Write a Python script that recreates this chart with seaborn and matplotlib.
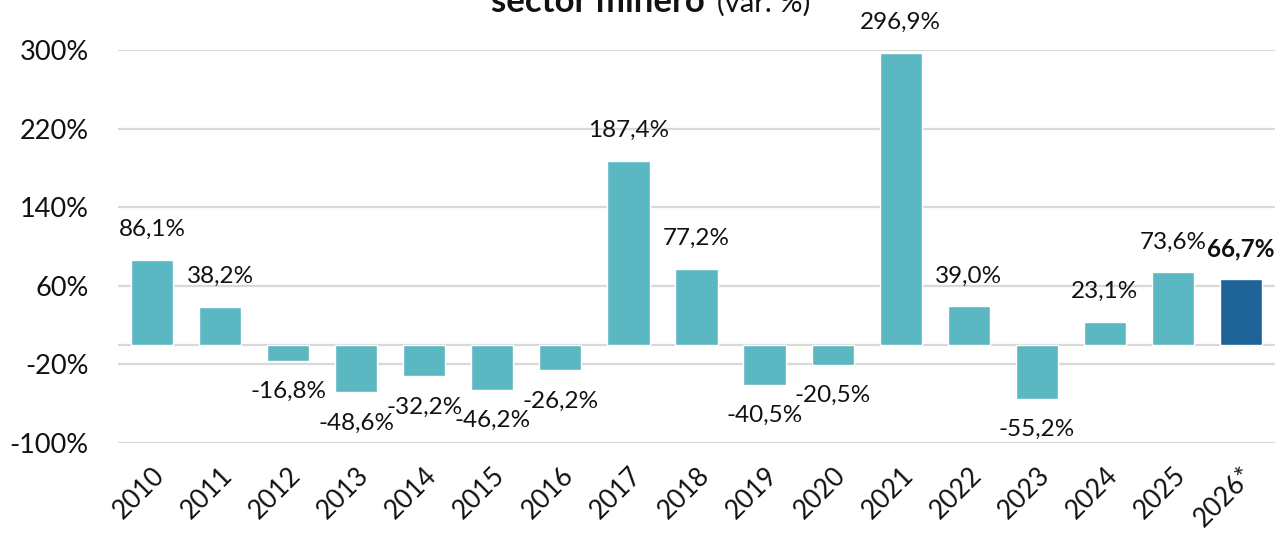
import matplotlib
matplotlib.use("Agg")
import matplotlib.pyplot as plt
import seaborn as sns
import pandas as pd

years = ["2010", "2011", "2012", "2013", "2014", "2015", "2016", "2017", "2018",
         "2019", "2020", "2021", "2022", "2023", "2024", "2025", "2026*"]
values = [86.1, 38.2, -16.8, -48.6, -32.2, -46.2, -26.2, 187.4, 77.2,
          -40.5, -20.5, 296.9, 39.0, -55.2, 23.1, 73.6, 66.7]
labels = ["86,1%", "38,2%", "-16,8%", "-48,6%", "-32,2%", "-46,2%", "-26,2%", "187,4%", "77,2%",
          "-40,5%", "-20,5%", "296,9%", "39,0%", "-55,2%", "23,1%", "73,6%", "66,7%"]
yticks = [-100, -20, 60, 140, 220, 300]
ytick_labels = ["-100%", "-20%", "60%", "140%", "220%", "300%"]

sns.set_theme(style="white")
plt.rcParams["font.family"] = ["Lato", "DejaVu Sans"]

df = pd.DataFrame({"year": years, "value": values})
colors = ["#5BB7C1"] * (len(years) - 1) + ["#1E6397"]

fig = plt.figure(figsize=(12.87, 5.35), dpi=100)
ax = fig.add_axes([118 / 1287, 1 - 443 / 535, (1275 - 118) / 1287, (443 - 50) / 535])

sns.barplot(data=df, x="year", y="value", hue="year", palette=colors, legend=False,
            width=0.62, ax=ax, saturation=1)

ax.set_ylim(-100, 300)
ax.set_xlim(-0.5, len(years) - 0.5)
ax.set_yticks(yticks)
ax.set_yticklabels(ytick_labels, fontsize=19.5, color="#111111")
ax.yaxis.grid(True, color="#D9D9D9", linewidth=1.6)
ax.axhline(0, color="#D9D9D9", linewidth=1.6, zorder=0.5)
ax.set_axisbelow(True)
for s in ax.spines.values():
    s.set_visible(False)
ax.tick_params(axis="y", length=0, pad=21)
ax.tick_params(axis="x", length=0, pad=14)
ax.set_xlabel("")
ax.set_ylabel("")
for lab in ax.get_xticklabels():
    lab.set_rotation(45)
    lab.set_ha("right")
    lab.set_rotation_mode("anchor")
    lab.set_fontsize(19)
    lab.set_color("#111111")

for i, (v, t) in enumerate(zip(values, labels)):
    off = 22 if v >= 0 else -22
    ax.annotate(t, (i, v), xytext=(0, off), textcoords="offset points",
                ha="center", va="center", fontsize=17.5,
                fontweight="bold" if i == len(values) - 1 else "normal",
                color="#111111")

fig.text(705 / 1287, 1.0 - 12 / 535, "sector minero", ha="right", va="baseline",
         fontsize=25, fontweight="bold", color="#111111")
fig.text(717 / 1287, 1.0 - 12 / 535, "(var. %)", ha="left", va="baseline",
         fontsize=21, color="#111111")

fig.savefig("out.png", dpi=100)
